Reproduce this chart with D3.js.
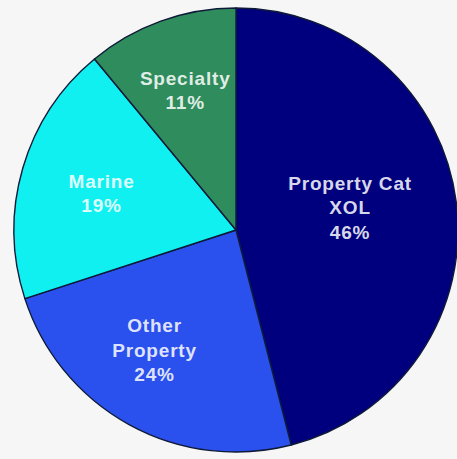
<!DOCTYPE html>
<html>
<head>
<meta charset="utf-8">
<script src="https://cdn.jsdelivr.net/npm/d3@7"></script>
<style>
  html, body { margin: 0; padding: 0; background: #f6f6f6; }
  svg { display: block; }
</style>
</head>
<body>
<svg id="chart" width="457" height="459"></svg>
<script>
// Portfolio mix by line of business
const categories = ["Property Cat XOL", "Other Property", "Marine", "Specialty"];
const shares = [46, 24, 19, 11];
const labelLines = [["Property Cat", "XOL"], ["Other", "Property"], ["Marine"], ["Specialty"]];
const colors = ["#00007e", "#2a50ee", "#10f0f0", "#2f8c5c"];

const W = 457, H = 459;
const cx = 236, cy = 230, R = 222;

// label placement: radius along each slice's mid-angle plus a small nudge
const labelLayout = {
  "Property Cat XOL": { r: 118, dx: -3, dy: -8 },
  "Other Property":   { r: 140, dx: -14, dy: -3 },
  "Marine":           { r: 140, dx: 0, dy: 2 },
  "Specialty":        { r: 150, dx: 0, dy: 1 }
};

const data = categories.map((c, i) => ({ name: c, value: shares[i], lines: labelLines[i], color: colors[i] }));

const svg = d3.select("#chart");
const g = svg.append("g").attr("transform", `translate(${cx},${cy})`);

const pie = d3.pie().value(d => d.value).sort(null);
const arc = d3.arc().innerRadius(0).outerRadius(R);
const arcs = pie(data);

g.selectAll("path.slice")
  .data(arcs)
  .join("path")
  .attr("class", "slice")
  .attr("d", arc)
  .attr("fill", d => d.data.color)
  .attr("stroke", "#0f1a38")
  .attr("stroke-width", 1.4)
  .attr("stroke-linejoin", "round");

const lineH = 24.5;
const labels = g.selectAll("text.lbl")
  .data(arcs)
  .join("text")
  .attr("class", "lbl")
  .attr("text-anchor", "middle")
  .attr("font-family", "'Liberation Sans', Arial, sans-serif")
  .attr("font-weight", "bold")
  .attr("font-size", 19)
  .attr("letter-spacing", 0.8)
  .attr("fill", "#ffffff")
  .attr("fill-opacity", 0.86)
  .attr("transform", d => {
    const lay = labelLayout[d.data.name];
    const c = d3.arc().innerRadius(lay.r).outerRadius(lay.r).centroid(d);
    return `translate(${c[0] + lay.dx},${c[1] + lay.dy})`;
  });

labels.each(function(d) {
  const lines = d.data.lines.concat([d.data.value + "%"]);
  const n = lines.length;
  const t = d3.select(this);
  lines.forEach((ln, i) => {
    t.append("tspan")
      .attr("x", 0)
      .attr("y", (i - (n - 1) / 2) * lineH + 7)
      .text(ln);
  });
});
</script>
</body>
</html>
